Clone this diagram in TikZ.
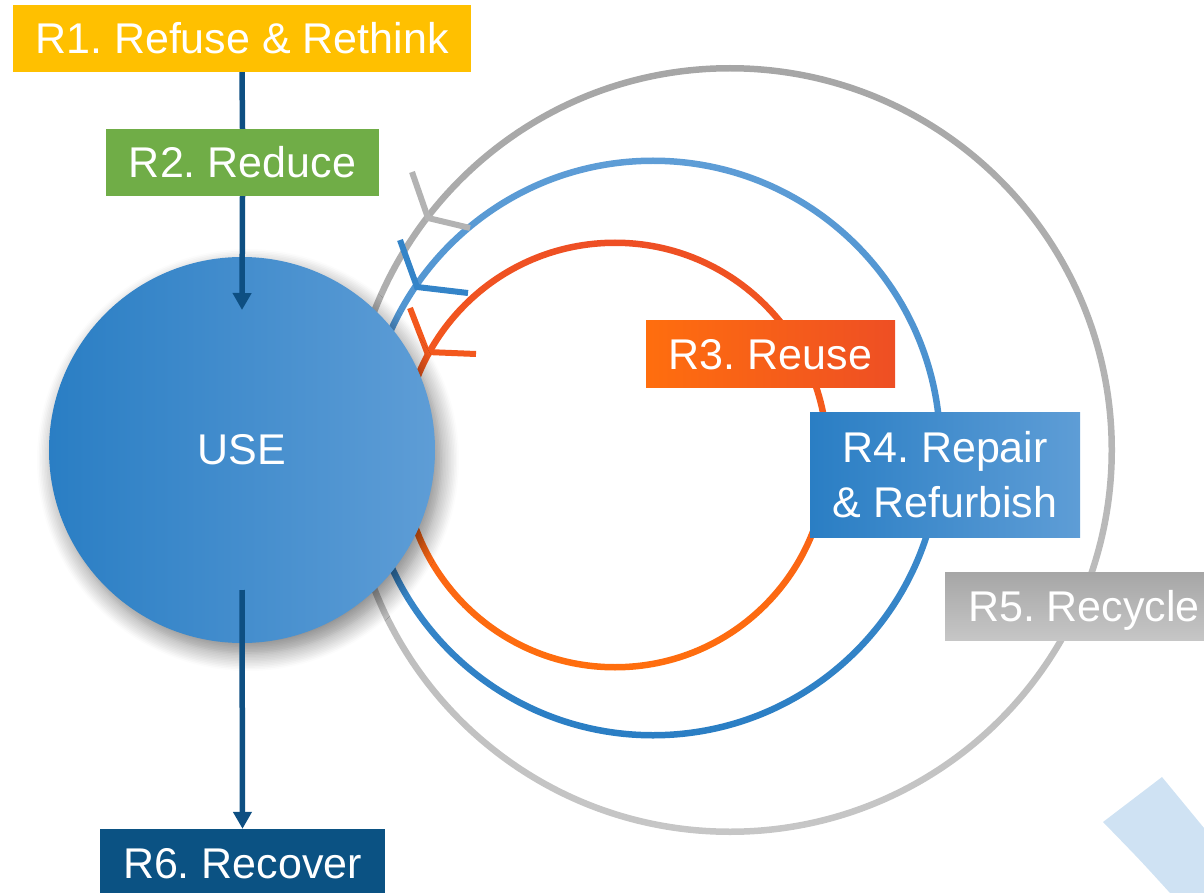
\documentclass[tikz,border=0pt]{standalone}
\usepackage{fontspec}
\setmainfont{Liberation Sans}
\usetikzlibrary{arrows.meta,shadows.blur}

\definecolor{rYellow}{HTML}{FFC000}
\definecolor{rGreen}{HTML}{70AD47}
\definecolor{rOrangeA}{HTML}{FF6E0E}
\definecolor{rOrangeB}{HTML}{EE4F24}
\definecolor{rBlueA}{HTML}{2A7EC4}
\definecolor{rBlueB}{HTML}{5E9DD6}
\definecolor{rGrayA}{HTML}{C6C6C6}
\definecolor{rGrayB}{HTML}{A6A6A6}
\definecolor{rNavy}{HTML}{0B5283}
\definecolor{rFlow}{HTML}{0E4F82}
\definecolor{rPale}{HTML}{CFE2F3}

\tikzset{
  lbl/.style={rectangle, inner sep=0pt, text=white,
    font=\fontsize{43}{55}\selectfont, text height=31pt, text depth=0pt},
  flow/.style={draw=rFlow, line width=5.5pt},
  barb/.style={line width=6pt, line cap=butt, line join=miter},
}

\begin{document}
\frenchspacing
\begin{tikzpicture}[x=1pt,y=-1pt]
  \useasboundingbox (0,0) rectangle (1204,893);
  \clip (0,0) rectangle (1204,893);

  % pale wedge in the lower right corner
  \fill[rPale] (1103,822) -- (1162,777) -- (1204,828) -- (1204,893)
    -- (1170,893) .. controls (1140,860) .. (1103,822) -- cycle;

  % recycling loop
  \shade[even odd rule, top color=rGrayB, bottom color=rGrayA]
    (730,450) circle[radius=385pt] (730,450) circle[radius=378.5pt];
  % repair loop
  \shade[even odd rule, top color=rBlueB, bottom color=rBlueA]
    (653,448) circle[radius=290.5pt] (653,448) circle[radius=284pt];
  % reuse loop
  \shade[even odd rule, top color=rOrangeB, bottom color=rOrangeA]
    (615,455) circle[radius=215.5pt] (615,455) circle[radius=209pt];

  % open arrowheads on the loops
  \draw[barb, draw=rGrayB!85!white] (412,172) -- (428,218) -- (470,228);
  \draw[barb, draw=rBlueA!80!rBlueB] (400,240) -- (417,287) -- (468,293);
  \draw[barb, draw=rOrangeB!70!rOrangeA] (410,308) -- (427,352) -- (476,354);

  % central use phase
  \node[circle, minimum size=386pt, inner sep=0pt, text=white,
    font=\fontsize{43}{50}\selectfont, left color=rBlueA, right color=rBlueB,
    blur shadow={shadow xshift=6pt, shadow yshift=-10pt,
      shadow blur radius=18pt, shadow blur steps=12, shadow opacity=50}]
    (use) at (242,450) {USE};

  % labels
  \node[lbl, fill=rYellow, minimum width=458pt, minimum height=67pt]
    (r1) at (242,38.5) {R1. Refuse \& Rethink};
  \node[lbl, fill=rGreen, minimum width=273pt, minimum height=67pt]
    (r2) at (242.5,162.5) {R2. Reduce};
  \node[lbl, left color=rOrangeA, right color=rOrangeB,
    minimum width=249pt, minimum height=67pt]
    (r3) at (770.5,353.5) {R3. Reuse};
  \node[rectangle, inner sep=0pt, text=white, align=center,
    font=\fontsize{43}{55}\selectfont, left color=rBlueA, right color=rBlueB,
    minimum width=270pt, minimum height=125pt]
    (r4) at (945,474.5) {R4. Repair\\\& Refurbish};
  \node[lbl, minimum width=278pt, minimum height=68pt,
    top color=rGrayB, bottom color=rGrayA]
    (r5) at (1084,606) {R5. Recycle};
  \node[lbl, fill=rNavy, minimum width=285pt, minimum height=67pt]
    (r6) at (242.5,862.5) {R6. Recover};

  % flow through the use phase
  \coordinate (inTip) at (242,310);
  \coordinate (outStart) at (242,590);
  \draw[flow] (r1.south) -- (r2.north);
  \draw[flow, -{Triangle[width=18pt,length=17pt]}] (r2.south) -- (inTip);
  \draw[flow, -{Triangle[width=18pt,length=17pt]}] (outStart) -- (r6.north);
\end{tikzpicture}
\end{document}
